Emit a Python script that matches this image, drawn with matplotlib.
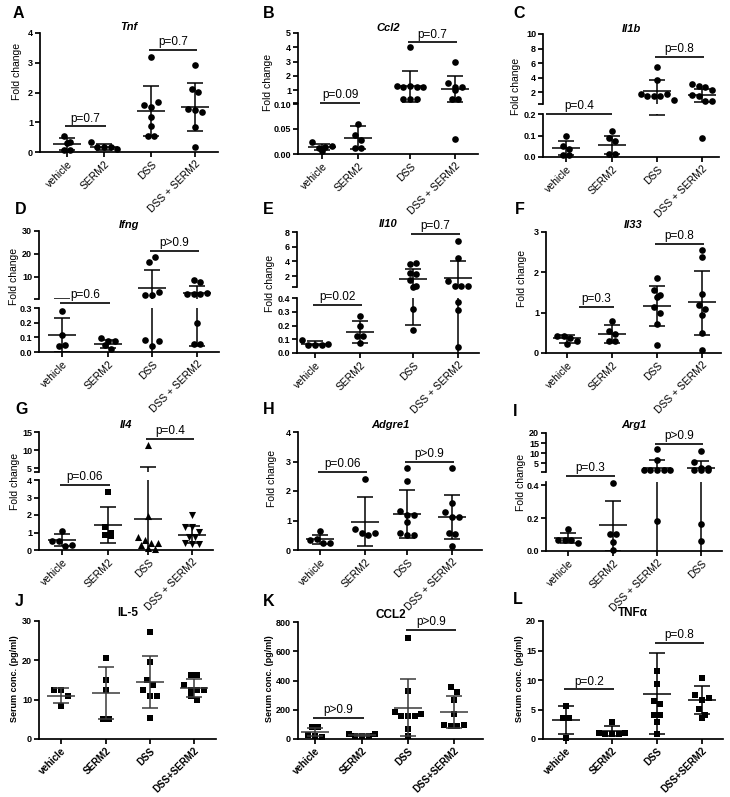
import numpy as np
import matplotlib
matplotlib.use('Agg')
import matplotlib.pyplot as plt

plt.rcParams['font.family'] = ['Liberation Sans', 'DejaVu Sans']

# ---------------- data ----------------
cats_fc = ['vehicle', 'SERM2', 'DSS', 'DSS + SERM2']
cats_arg1 = ['vehicle', 'SERM2', 'DSS + SERM2', 'DSS']
cats_serum = ['vehicle', 'SERM2', 'DSS', 'DSS+SERM2']

# A  Tnf
A_vals = [[0.54, 0.30, 0.32, 0.06, 0.06],
          [0.32, 0.17, 0.17, 0.17, 0.11],
          [3.19, 1.58, 1.50, 1.67, 1.16, 0.86, 0.54, 0.54],
          [2.93, 2.13, 2.02, 1.43, 1.41, 1.36, 0.83, 0.17]]
A_mean = [0.27, 0.18, 1.38, 1.52]
A_lo = [0.06, 0.08, 0.54, 0.71]
A_hi = [0.47, 0.28, 2.22, 2.31]
A_p = ['p=0.7', 'p=0.7']
A_py = [0.86, 3.42]

# B  Ccl2
B_vals = [[0.024, 0.013, 0.015, 0.016, 0.006],
          [0.060, 0.039, 0.029, 0.012, 0.012],
          [3.99, 1.31, 1.19, 1.31, 1.19, 1.19, 0.41, 0.41, 0.41],
          [3.00, 1.52, 1.19, 1.00, 1.19, 0.41, 0.41, 0.03]]
B_mean = [0.015, 0.033, 1.28, 1.09]
B_lo = [0.009, 0.010, 0.18, 0.18]
B_hi = [0.020, 0.056, 2.36, 1.99]
B_p = ['p=0.09', 'p=0.7']
B_py = [0.10, 4.34]

# C  Il1b
C_vals = [[0.097, 0.05, 0.035, 0.01, 0.01],
          [0.123, 0.09, 0.075, 0.016, 0.016],
          [5.4, 3.6, 1.7, 1.4, 1.4, 1.4, 1.7, 0.9],
          [3.1, 2.9, 2.7, 2.3, 1.6, 1.5, 0.7, 0.75, 0.087]]
C_mean = [0.04, 0.058, 2.1, 1.54]
C_lo = [0.008, 0.016, 0.195, 0.62]
C_hi = [0.076, 0.099, 3.6, 2.4]
C_p = ['p=0.4', 'p=0.8']
C_py = [0.2, 6.8]

# D  Ifng
D_vals = [[0.28, 0.114, 0.04, 0.045],
          [0.095, 0.073, 0.073, 0.05, 0.023],
          [16.6, 18.8, 2.3, 2.0, 3.4, 0.084, 0.04, 0.073],
          [8.5, 7.8, 2.6, 2.6, 2.6, 2.9, 0.2, 0.055, 0.055]]
D_mean = [0.116, 0.057, 5.3, 3.0]
D_lo = [0.002, 0.027, -2.6, 0.04]
D_hi = [0.23, 0.084, 13.2, 5.9]
D_p = ['p=0.6', 'p>0.9']
D_py = [0.334, 21.4]

# E  Il10
E_vals = [[0.095, 0.06, 0.055, 0.06, 0.068],
          [0.27, 0.2, 0.12, 0.12, 0.07],
          [3.65, 3.75, 2.45, 2.3, 1.45, 0.55, 0.6, 0.32, 0.165],
          [6.8, 4.5, 1.35, 0.62, 0.62, 0.62, 0.37, 0.31, 0.04]]
E_mean = [0.065, 0.15, 1.63, 1.77]
E_lo = [0.056, 0.073, 0.206, -0.5]
E_hi = [0.087, 0.23, 3.0, 4.06]
E_p = ['p=0.02', 'p=0.7']
E_py = [0.347, 7.7]

# F  Il33
F_vals = [[0.43, 0.42, 0.38, 0.30, 0.22],
          [0.80, 0.55, 0.47, 0.30, 0.30],
          [1.86, 1.57, 1.43, 1.40, 1.15, 1.00, 0.72, 0.20],
          [2.55, 2.38, 1.47, 1.18, 1.10, 0.95, 0.50, 0.08]]
F_mean = [0.37, 0.48, 1.16, 1.26]
F_lo = [0.26, 0.26, 0.66, 0.45]
F_hi = [0.45, 0.70, 1.65, 2.04]
F_p = ['p=0.3', 'p=0.8']
F_py = [1.14, 2.7]

# G  Il4
G_vals = [[1.1, 0.53, 0.53, 0.25, 0.29],
          [3.3, 1.33, 1.0, 0.86, 0.82],
          [11.3, 1.94, 0.75, 0.55, 0.38, 0.29, 0.38, 0.1, 0.05],
          [2.0, 1.33, 1.33, 1.05, 0.76, 0.72, 0.38, 0.34, 0.34]]
G_mean = [0.57, 1.43, 1.75, 0.86]
G_lo = [0.25, 0.38, -2.0, 0.38]
G_hi = [0.90, 2.48, 5.5, 1.37]
G_p = ['p=0.06', 'p=0.4']
G_py = [3.71, 13.1]

# H  Adgre1
H_vals = [[0.65, 0.35, 0.36, 0.23, 0.23],
          [2.41, 0.71, 0.59, 0.51, 0.57],
          [2.78, 2.35, 1.33, 1.19, 1.19, 0.94, 0.57, 0.51, 0.50],
          [2.78, 1.59, 1.28, 1.13, 1.11, 0.57, 0.53, 0.15]]
H_mean = [0.37, 0.96, 1.21, 1.11]
H_lo = [0.20, 0.15, 0.40, 0.36]
H_hi = [0.51, 1.78, 2.04, 1.85]
H_p = ['p=0.06', 'p>0.9']
H_py = [2.66, 3.0]

# I  Arg1
I_vals = [[0.135, 0.07, 0.065, 0.07, 0.05],
          [0.415, 0.106, 0.106, 0.055, 0.005],
          [12.0, 6.7, 1.6, 1.6, 1.6, 1.6, 1.6, 0.18],
          [10.9, 5.5, 2.6, 1.6, 1.6, 1.6, 2.6, 0.167, 0.06]]
I_mean = [0.081, 0.156, 2.6, 2.6]
I_lo = [0.049, 0.003, -1.5, -1.0]
I_hi = [0.11, 0.303, 6.6, 6.1]
I_p = ['p=0.3', 'p>0.9']
I_py = [0.457, 14.5]

# J  IL-5 serum
J_vals = [[12.5, 12.5, 11.0, 8.3],
          [20.7, 15.0, 12.5, 5.1, 5.1],
          [27.2, 19.6, 15.0, 13.7, 12.5, 11.0, 11.0, 5.3],
          [16.3, 16.3, 13.7, 12.5, 12.5, 12.5, 11.0, 9.8]]
J_mean = [11.0, 11.8, 14.6, 12.9]
J_lo = [9.1, 5.1, 7.8, 10.6]
J_hi = [12.9, 18.4, 21.1, 15.2]
J_p = []
J_py = []

# K  CCL2 serum
K_vals = [[85, 80, 30, 20, 15],
          [36, 22, 18, 22, 32],
          [690, 330, 182, 155, 155, 155, 171, 68, 18],
          [355, 319, 269, 171, 98, 91, 91, 98]]
K_mean = [46, 30, 212, 185]
K_lo = [18, 22, 18, 75]
K_hi = [75, 36, 412, 292]
K_p = ['p>0.9', 'p>0.9']
K_py = [144, 748]

# L  TNFa serum
L_vals = [[5.6, 3.5, 3.5, 0.17],
          [2.8, 1.0, 0.85, 0.8, 0.85, 1.0],
          [11.5, 9.3, 6.5, 5.9, 4.1, 4.1, 2.8, 0.9],
          [10.3, 7.5, 6.6, 7.0, 5.1, 4.1, 3.5]]
L_mean = [3.26, 1.3, 7.6, 6.6]
L_lo = [0.84, 0.45, 0.84, 4.2]
L_hi = [5.6, 2.13, 14.5, 8.9]
L_p = ['p=0.2', 'p=0.8']
L_py = [8.4, 16.3]

# ---------------- layout ----------------
W, H = 730, 797
fig = plt.figure(figsize=(W / 100, H / 100), dpi=100)
fig.patch.set_facecolor('white')
U = 45.0       # pixels per category unit
LW = 1.25


def seg(px, ylim, ticks, labels):
    return dict(px=px, ylim=ylim, ticks=ticks, labels=labels)


def ints(t):
    return [str(v) for v in t]


panels = [
    dict(letter='A', lxy=(13, 13), title='Tnf', ty=27, ital=True, ylab='Fold change', yl=(17, 71),
         cats=cats_fc, vals=A_vals, mean=A_mean, lo=A_lo, hi=A_hi, p=A_p, py=A_py,
         x=(40, 218), cx=(67, 104, 151, 195),
         lower=seg((152, 33), (0, 4), [0, 1, 2, 3, 4], ints([0, 1, 2, 3, 4])), upper=None),
    dict(letter='B', lxy=(263, 13), title='Ccl2', ty=28, ital=True, ylab='Fold change', yl=(268, 82),
         cats=cats_fc, vals=B_vals, mean=B_mean, lo=B_lo, hi=B_hi, p=B_p, py=B_py,
         x=(298, 478), cx=(322, 358, 410, 455),
         lower=seg((154, 104), (0, 0.1), [0, 0.05, 0.1], ['0.00', '0.05', '0.10']),
         upper=seg((103, 33), (0.1, 5), [1, 2, 3, 4, 5], ints([1, 2, 3, 4, 5]))),
    dict(letter='C', lxy=(513, 13), title='Il1b', ty=29, ital=True, ylab='Fold change', yl=(516, 86),
         cats=cats_fc, vals=C_vals, mean=C_mean, lo=C_lo, hi=C_hi, p=C_p, py=C_py,
         x=(543, 719), cx=(566, 612, 657, 702), pdx={0: (-0.44, 0.0)},
         lower=seg((157, 114), (0, 0.2), [0, 0.1, 0.2], ['0.0', '0.1', '0.2']),
         upper=seg((104, 34), (0.35, 10), [2, 4, 6, 8, 10], ints([2, 4, 6, 8, 10]))),
    dict(letter='D', lxy=(15, 209), title='Ifng', ty=225, ital=True, ylab='Fold change', yl=(14, 276),
         cats=cats_fc, vals=D_vals, mean=D_mean, lo=D_lo, hi=D_hi, p=D_p, py=D_py,
         x=(39, 219), cx=(62, 108, 152, 197),
         lower=seg((352, 308), (0, 0.3), [0, 0.1, 0.2, 0.3], ['0.0', '0.1', '0.2', '0.3']),
         upper=seg((299, 231), (0.4, 30), [10, 20, 30], ints([10, 20, 30]))),
    dict(letter='E', lxy=(263, 210), title='Il10', ty=224, ital=True, ylab='Fold change', yl=(270, 283),
         cats=cats_fc, vals=E_vals, mean=E_mean, lo=E_lo, hi=E_hi, p=E_p, py=E_py,
         x=(297, 479), cx=(315, 360, 413, 458),
         lower=seg((353, 298), (0, 0.4), [0, 0.1, 0.2, 0.3, 0.4], ['0.0', '0.1', '0.2', '0.3', '0.4']),
         upper=seg((287, 232), (0.5, 8), [2, 4, 6, 8], ints([2, 4, 6, 8]))),
    dict(letter='F', lxy=(515, 210), title='Il33', ty=225, ital=True, ylab='Fold change', yl=(522, 278),
         cats=cats_fc, vals=F_vals, mean=F_mean, lo=F_lo, hi=F_hi, p=F_p, py=F_py,
         x=(546, 721), cx=(567, 612, 657, 702), pdx={0: (0.27, 0.04)},
         lower=seg((353, 232), (0, 3), [0, 1, 2, 3], ints([0, 1, 2, 3])), upper=None),
    dict(letter='G', lxy=(15, 410), title='Il4', ty=425, ital=True, ylab='Fold change', yl=(15, 481),
         cats=cats_fc, vals=G_vals, mean=G_mean, lo=G_lo, hi=G_hi, p=G_p, py=G_py,
         x=(39, 213), cx=(62, 108, 148, 192), markers=['o', 's', '^', 'v'],
         lower=seg((550, 480), (0, 4), [0, 1, 2, 3, 4], ints([0, 1, 2, 3, 4])),
         upper=seg((472, 432), (4, 15), [5, 10, 15], ints([5, 10, 15]))),
    dict(letter='H', lxy=(263, 410), title='Adgre1', ty=425, ital=True, ylab='Fold change', yl=(272, 478),
         cats=cats_fc, vals=H_vals, mean=H_mean, lo=H_lo, hi=H_hi, p=H_p, py=H_py,
         x=(298, 482), cx=(320, 365, 407, 452),
         lower=seg((550, 432), (0, 4), [0, 1, 2, 3, 4], ints([0, 1, 2, 3, 4])), upper=None),
    dict(letter='I', lxy=(513, 411), title='Arg1', ty=425, ital=True, ylab='Fold change', yl=(521, 482),
         cats=cats_arg1, vals=I_vals, mean=I_mean, lo=I_lo, hi=I_hi, p=I_p, py=I_py,
         x=(546, 722), cx=(568, 613, 657, 701),
         lower=seg((551, 482), (0, 0.42), [0, 0.2, 0.4], ['0.0', '0.2', '0.4']),
         upper=seg((472, 433), (0.6, 20), [5, 10, 15, 20], ints([5, 10, 15, 20]))),
    dict(letter='J', lxy=(15, 601), title='IL-5', ty=613, ital=False, ylab='Serum conc. (pg/ml)', yl=(15, 679),
         cats=cats_serum, vals=J_vals, mean=J_mean, lo=J_lo, hi=J_hi, p=J_p, py=J_py,
         x=(39, 216), cx=(61, 106, 150, 194), markers=['s'] * 4, serum=True, ecol='#3a3a3a',
         lower=seg((739, 621), (0, 30), [0, 10, 20, 30], ints([0, 10, 20, 30])), upper=None),
    dict(letter='K', lxy=(263, 601), title='CCL2', ty=615, ital=False, ylab='Serum conc. (pg/ml)', yl=(270, 679),
         cats=cats_serum, vals=K_vals, mean=K_mean, lo=K_lo, hi=K_hi, p=K_p, py=K_py,
         x=(298, 483), cx=(315, 362, 408, 454), markers=['s'] * 4, serum=True, ecol='#3a3a3a',
         lower=seg((739, 622), (0, 800), [0, 200, 400, 600, 800], ints([0, 200, 400, 600, 800])), upper=None),
    dict(letter='L', lxy=(513, 600), title='TNFα', ty=613, ital=False, ylab='Serum conc. (pg/ml)', yl=(520, 679),
         cats=cats_serum, vals=L_vals, mean=L_mean, lo=L_lo, hi=L_hi, p=L_p, py=L_py,
         x=(543, 723), cx=(566, 612, 657, 702), markers=['s'] * 4, serum=True,
         lower=seg((739, 621), (0, 20), [0, 5, 10, 15, 20], ints([0, 5, 10, 15, 20])), upper=None),
]


def add_ax(x0, x1, yb, yt):
    return fig.add_axes([x0 / W, 1 - yb / H, (x1 - x0) / W, (yb - yt) / H])


def swarm(ax, ys, d=6.6):
    ys = np.asarray(ys, float)
    if len(ys) == 0:
        return np.zeros(0)
    ypx = ax.transData.transform(np.column_stack([np.zeros(len(ys)), ys]))[:, 1]
    order = sorted(range(len(ys)), key=lambda i: -ypx[i])
    bins = []
    for i in order:
        if bins and abs(ypx[bins[-1][0]] - ypx[i]) < d:
            bins[-1].append(i)
        else:
            bins.append([i])
    off = np.zeros(len(ys))
    for b in bins:
        b = sorted(b)
        n = len(b)
        for k, i in enumerate(b):
            off[i] = (k - (n - 1) / 2.0) * d
    ppu = ax.transData.transform((1, 0))[0] - ax.transData.transform((0, 0))[0]
    return off / ppu


def draw(s):
    x0, x1 = s['x']
    pos = [(c - x0) / U for c in s['cx']]
    xlim = (0, (x1 - x0) / U)
    serum = s.get('serum', False)
    ecol = s.get('ecol', 'black')
    markers = s.get('markers', ['o'] * 4)
    segs = [('lower', s['lower'])]
    if s['upper'] is not None:
        segs.append(('upper', s['upper']))
    axd = {}
    for kind, sg in segs:
        yb, yt = sg['px']
        ax = add_ax(x0, x1, yb, yt)
        axd[kind] = ax
        ax.set_xlim(*xlim)
        ax.set_ylim(*sg['ylim'])
        ax.patch.set_alpha(0)
        for sp in ['top', 'right']:
            ax.spines[sp].set_visible(False)
        for sp in ['left', 'bottom']:
            ax.spines[sp].set_linewidth(LW)
        ax.tick_params(axis='both', width=LW, length=3.5, pad=1.5, direction='out')
        if kind == 'upper':
            ax.spines['bottom'].set_visible(False)
            ax.set_xticks([])
            ax.set_yticks([sg['ylim'][0]] + sg['ticks'])
            ax.set_yticklabels([''] + sg['labels'], fontsize=6.5, fontweight='bold')
        else:
            ax.set_xticks(pos)
            ax.set_xticklabels(s['cats'], rotation=45, ha='right', va='top',
                               rotation_mode='anchor',
                               fontsize=7 if serum else 7.5,
                               fontweight='bold' if serum else 'normal')
            ax.set_yticks(sg['ticks'])
            ax.set_yticklabels(sg['labels'], fontsize=6.5, fontweight='bold')

        lo_lim, hi_lim = sg['ylim']
        for k in range(4):
            p = pos[k]
            vals = np.asarray(s['vals'][k], float)
            if kind == 'lower' and s['upper'] is not None:
                sel = vals <= hi_lim
            elif kind == 'upper':
                sel = vals >= lo_lim
            else:
                sel = np.ones(len(vals), bool)
            v = vals[sel]
            off = swarm(ax, v)
            m = markers[k]
            size = {'o': 23, 's': 20, '^': 26, 'v': 26}[m]
            ax.scatter(p + off, v, s=size, marker=m, color='black', linewidths=0,
                       zorder=3, clip_on=False)
            mn, lo, hi = s['mean'][k], s['lo'][k], s['hi'][k]
            kw = dict(color=ecol, lw=1.1, solid_capstyle='butt', zorder=4)
            ax.plot([p - 0.31, p + 0.31], [mn, mn], **kw)
            ax.plot([p, p], [lo, hi], **kw)
            ax.plot([p - 0.17, p + 0.17], [lo, lo], **kw)
            ax.plot([p - 0.17, p + 0.17], [hi, hi], **kw)

    # p-value bars
    pdx = s.get('pdx', {})
    for j, (txt, y) in enumerate(zip(s['p'], s['py'])):
        i0, i1 = 2 * j, 2 * j + 1
        d0, d1 = pdx.get(j, (-0.05, 0.05))
        xa, xb = pos[i0] + d0, pos[i1] + d1
        if s['upper'] is not None and y >= s['upper']['ylim'][0]:
            ax = axd['upper']
        else:
            ax = axd['lower']
        ax.plot([xa, xb], [y, y], color='black', lw=1.2, clip_on=False,
                solid_capstyle='butt', zorder=5)
        ax.annotate(txt, xy=((xa + xb) / 2, y), xytext=(0, 1.3), textcoords='offset points',
                    ha='center', va='bottom', fontsize=8.5, annotation_clip=False)

    # texts
    fig.text(s['lxy'][0] / W, 1 - s['lxy'][1] / H, s['letter'], ha='left', va='center',
             fontsize=11.5, fontweight='bold')
    fig.text((x0 + x1) / 2 / W, 1 - s['ty'] / H, s['title'], ha='center', va='center',
             fontsize=8.5 if serum else 8, fontweight='bold',
             style='italic' if s['ital'] else 'normal')
    fig.text(s['yl'][0] / W, 1 - s['yl'][1] / H, s['ylab'], rotation=90, ha='center',
             va='center', fontsize=6.5 if serum else 7.5,
             fontweight='bold' if serum else 'normal')


for s in panels:
    draw(s)

fig.savefig('out.png', dpi=100, facecolor='white')
